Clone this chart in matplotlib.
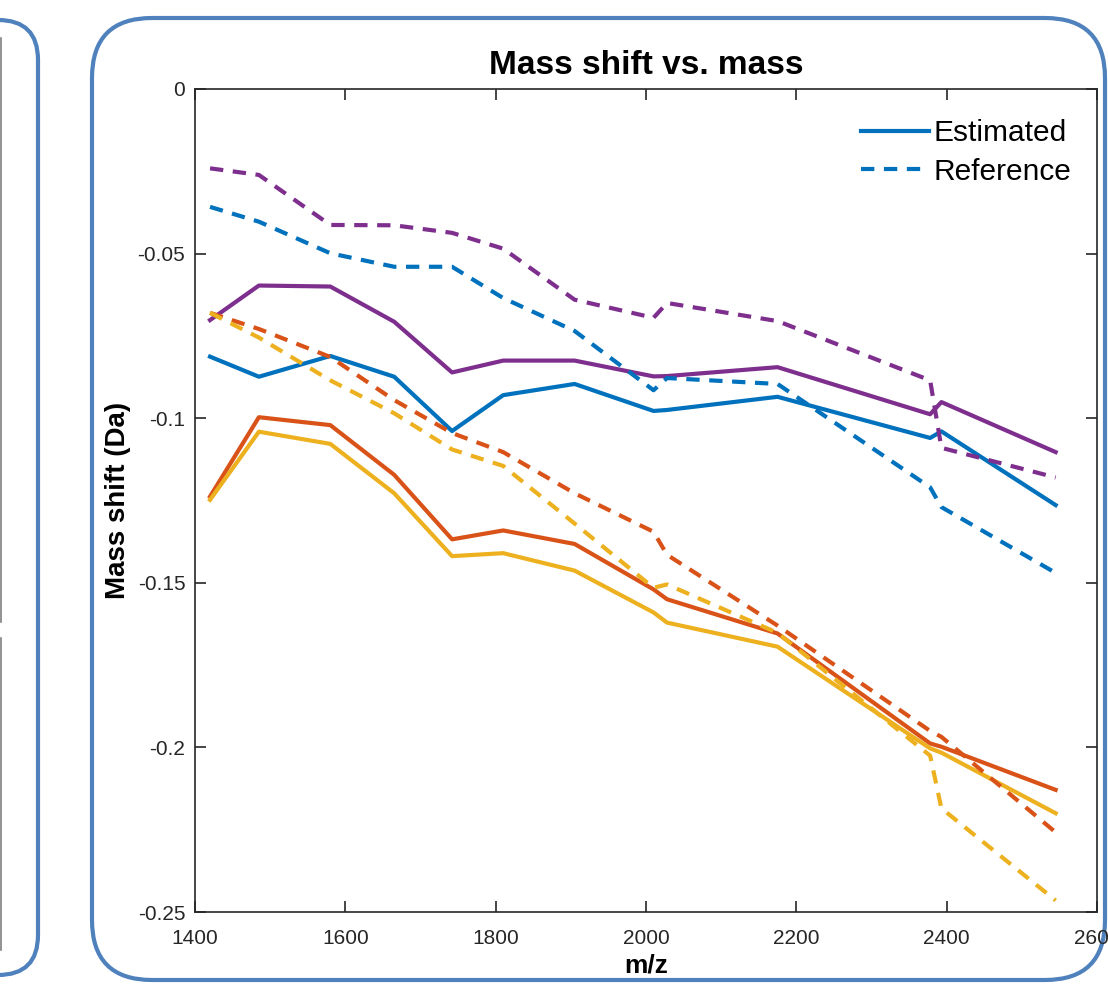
import matplotlib
matplotlib.use('Agg')
from matplotlib import pyplot as plt
from matplotlib.patches import FancyBboxPatch

plt.rcParams['font.family'] = ['Liberation Sans', 'DejaVu Sans']

# m/z positions of the peptides
mz = [1420, 1485, 1580, 1665, 1742, 1810, 1905, 2010, 2028, 2175, 2378, 2393, 2545]

# Estimated mass shift (solid)
est_blue = [-0.0813, -0.0874, -0.0811, -0.0874, -0.1039, -0.0930, -0.0896,
            -0.0978, -0.0975, -0.0935, -0.1060, -0.1040, -0.1264]
est_orange = [-0.1238, -0.0997, -0.1021, -0.1172, -0.1368, -0.1341, -0.1382,
              -0.1520, -0.1550, -0.1654, -0.1988, -0.1998, -0.2129]
est_yellow = [-0.1248, -0.1041, -0.1078, -0.1228, -0.1419, -0.1410, -0.1463,
              -0.1590, -0.1621, -0.1694, -0.2003, -0.2016, -0.2200]
est_purple = [-0.0702, -0.0597, -0.0600, -0.0707, -0.0861, -0.0825, -0.0825,
              -0.0873, -0.0872, -0.0845, -0.0988, -0.0951, -0.1103]

# Reference mass shift (dashed)
ref_blue = [-0.0358, -0.0403, -0.0499, -0.0540, -0.0540, -0.0635, -0.0735,
            -0.0915, -0.0878, -0.0896, -0.1210, -0.1270, -0.1470]
ref_orange = [-0.0680, -0.0729, -0.0814, -0.0945, -0.1045, -0.1103, -0.1228,
              -0.1345, -0.1415, -0.1630, -0.1950, -0.1968, -0.2258]
ref_yellow = [-0.0680, -0.0755, -0.0885, -0.0985, -0.1095, -0.1145, -0.1320,
              -0.1515, -0.1505, -0.1652, -0.2025, -0.2185, -0.2465]
ref_purple = [-0.0241, -0.0261, -0.0413, -0.0414, -0.0437, -0.0485, -0.0640,
              -0.0695, -0.0650, -0.0705, -0.0885, -0.1090, -0.1180]

colors = ['#0072BD', '#D95319', '#EDB120', '#7E2F8E']
x_ticks = [1400, 1600, 1800, 2000, 2200, 2400, 2600]
y_ticks = [0, -0.05, -0.1, -0.15, -0.2, -0.25]
y_tick_labels = ['0', '-0.05', '-0.1', '-0.15', '-0.2', '-0.25']

W, H = 1108, 986
fig = plt.figure(figsize=(W / 100, H / 100), dpi=100)

# slide frames behind the plot (pixel coordinates)
bg = fig.add_axes([0, 0, 1, 1], zorder=0)
bg.set_xlim(0, W)
bg.set_ylim(H, 0)
bg.axis('off')
frame_col = '#4F81BD'
bg.add_patch(FancyBboxPatch((-200, 20), 238, 955, boxstyle='round,pad=0,rounding_size=40',
                            fill=False, ec=frame_col, lw=3))
bg.add_patch(FancyBboxPatch((92, 18), 1013, 962, boxstyle='round,pad=0,rounding_size=60',
                            fill=False, ec=frame_col, lw=3))
bg.plot([1, 1], [38, 622], color='#7f7f7f', lw=1.2)
bg.plot([1, 1], [638, 950], color='#7f7f7f', lw=1.2)

ax = fig.add_axes([195 / W, 1 - 912 / H, 902 / W, 823 / H], zorder=1)
ax.patch.set_alpha(0)

est = [est_blue, est_orange, est_yellow, est_purple]
ref = [ref_blue, ref_orange, ref_yellow, ref_purple]
lines_est = []
lines_ref = []
for c, s in zip(colors, est):
    l, = ax.plot(mz, s, color=c, lw=3)
    lines_est.append(l)
for c, s in zip(colors, ref):
    l, = ax.plot(mz, s, color=c, lw=3, ls='--', dashes=(3.2, 2.3))
    lines_ref.append(l)

ax.set_xlim(1400, 2600)
ax.set_ylim(-0.25, 0)
ax.set_xticks(x_ticks)
ax.set_yticks(y_ticks)
ax.set_yticklabels(y_tick_labels)
ax.tick_params(direction='in', length=8, width=1.2, top=True, right=True,
               labelsize=15, colors='#262626')
ax.tick_params(axis='x', pad=12)
ax.tick_params(axis='y', pad=7)
for sp in ax.spines.values():
    sp.set_color('#262626')
    sp.set_linewidth(1.2)

ax.set_title('Mass shift vs. mass', fontsize=24, fontweight='bold', pad=11)
ax.set_xlabel('m/z', fontsize=19, fontweight='bold', labelpad=4)
ax.set_ylabel('Mass shift (Da)', fontsize=20, fontweight='bold', labelpad=5)

ax.legend([lines_est[0], lines_ref[0]], ['Estimated', 'Reference'], loc='upper right',
          bbox_to_anchor=(1.0, 0.994), frameon=False, fontsize=21.5, handlelength=2.3,
          handletextpad=0.15, labelspacing=0.35, borderaxespad=0.45)

fig.savefig('out.png', dpi=100, facecolor='white')
